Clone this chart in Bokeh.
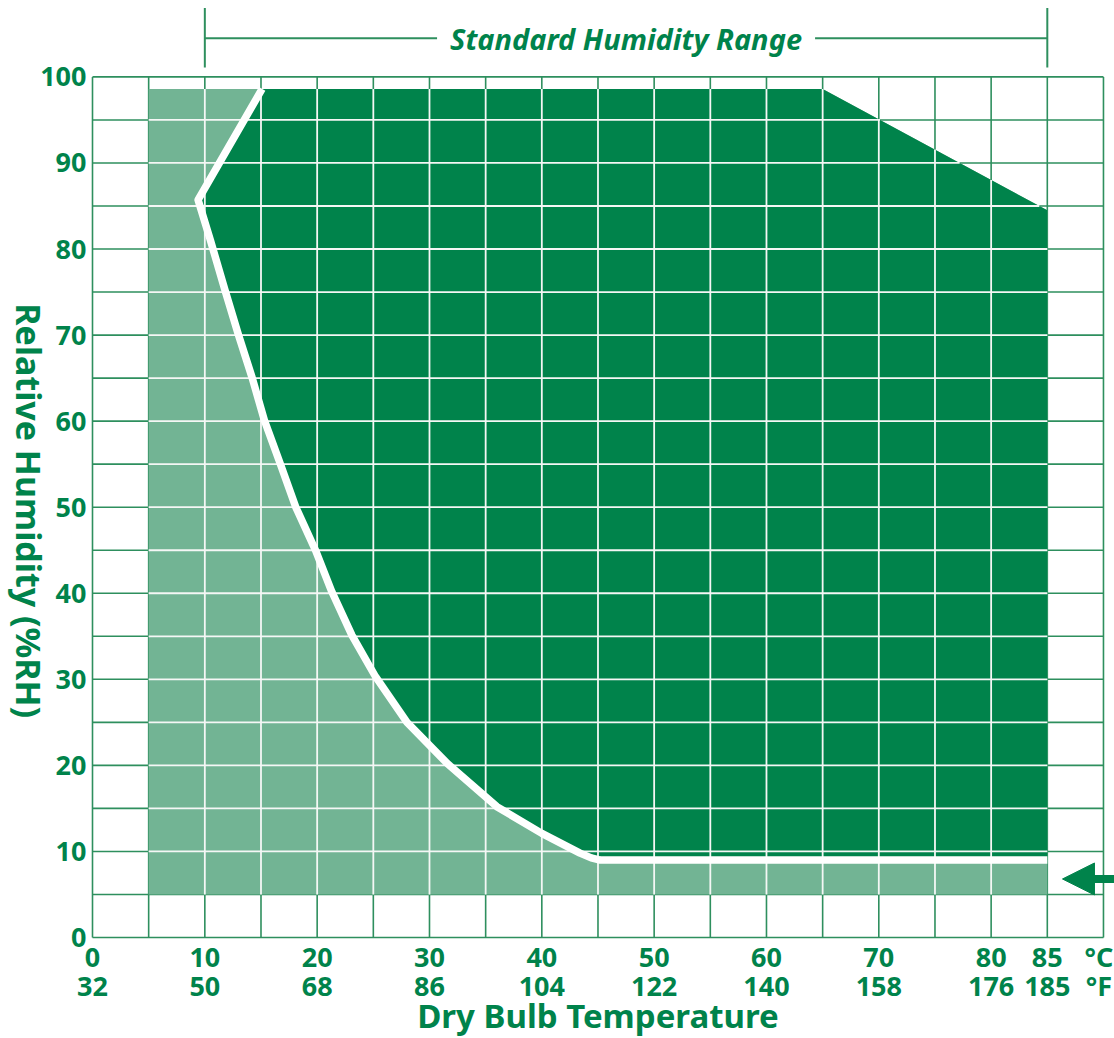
import math
import numpy as np
from bokeh.plotting import figure
from bokeh.models import Range1d, FixedTicker, Label, Arrow, NormalHead
from bokeh.core.properties import value
from bokeh.embed import file_html
from bokeh.resources import INLINE

# ---------------- data ----------------
temp_c_ticks = [0, 10, 20, 30, 40, 50, 60, 70, 80, 85]
temp_f_labels = ["32", "50", "68", "86", "104", "122", "140", "158", "176", "185"]
unit_tick = 89.6
unit_label = "°C\n°F"
rh_ticks = [0, 10, 20, 30, 40, 50, 60, 70, 80, 90, 100]
grid_t = list(range(0, 95, 5))      # °C grid every 5
grid_rh = list(range(0, 105, 5))    # %RH grid every 5

# overall chamber envelope (°C, %RH)
envelope_t = [5, 85, 85, 65, 5]
envelope_rh = [5, 5, 84.5, 98.6, 98.6]

# lower limit of the standard humidity range (top edge -> down to minimum RH)
limit_t = [15.1, 9.4, 10.5, 11.8, 13.0, 14.2, 15.3, 16.7, 18.1, 19.85, 21.3,
           23.1, 25.2, 28.0, 31.6, 36.0, 40.0, 43.4, 44.4, 45.2, 85.0]
limit_rh = [98.6, 85.7, 81.0, 75.2, 70.0, 65.1, 60.1, 55.1, 50.0, 45.0, 40.2,
            35.1, 30.3, 25.0, 20.2, 15.2, 12.1, 9.8, 9.25, 9.0, 9.0]
# upper right edge of the standard range
upper_t = [85, 65]
upper_rh = [84.5, 98.6]

# bracket for the "Standard Humidity Range"
bracket_t = [10, 85]
bracket_rh = 104.5
bracket_tick_rh = [101.1, 108.0]
arrow_rh = 6.8
arrow_t = [92.0, 86.35]

x_title = "Dry Bulb Temperature"
y_title = "Relative Humidity (%RH)"
x_title_pos = (45.0, -9.1)
y_title_pos = (-5.61, 49.6)

DARK = "#00834B"
LIGHT = "#72B494"
GRIDG = "#2E8F5E"
TEXT = "#00834B"
FONT = "Noto Sans"

# layout (pixels): the frame covers the whole canvas, axes sit at T=0 / RH=0
W, H = 1114, 1038
PX_T = 11.233   # px per °C
PX_RH = 8.606   # px per %RH
FRAME_L = 92
FRAME_B = 937

t_left = -FRAME_L / PX_T
t_right = (W - FRAME_L) / PX_T
rh_top = FRAME_B / PX_RH
rh_bottom = -(H - FRAME_B) / PX_RH

p = figure(width=W, height=H, x_range=Range1d(t_left, t_right), y_range=Range1d(rh_bottom, rh_top),
           output_backend="svg", toolbar_location=None,
           min_border_left=0, min_border_right=0, min_border_top=0, min_border_bottom=0)
p.outline_line_color = None
p.grid.visible = False
p.background_fill_color = "white"

# green grid lines (visible over the white background)
p.segment(x0=grid_t, y0=[0] * len(grid_t), x1=grid_t, y1=[100] * len(grid_t),
          line_color=GRIDG, line_width=1.6)
p.segment(x0=[0] * len(grid_rh), y0=grid_rh, x1=[90] * len(grid_rh), y1=grid_rh,
          line_color=GRIDG, line_width=1.6)

# filled envelope (light) and standard range (dark)
p.patch(envelope_t, envelope_rh, fill_color=LIGHT, line_color=None)
p.patch(limit_t + upper_t, limit_rh + upper_rh, fill_color=DARK, line_color=None)

# white grid lines over the coloured areas
t_lo, t_hi = envelope_t[0], envelope_t[1]
rh_lo = envelope_rh[0]
top_t = [envelope_t[4], envelope_t[3], envelope_t[2]]
top_rh = [envelope_rh[4], envelope_rh[3], envelope_rh[2]]
vx = [t for t in grid_t if t_lo < t < t_hi]
vtop = [float(np.interp(t, top_t, top_rh)) for t in vx]
p.segment(x0=vx, y0=[rh_lo] * len(vx), x1=vx, y1=vtop, line_color="#F4F7F5", line_width=1.8)
hy = [r for r in grid_rh if rh_lo < r < max(envelope_rh)]
hright = [float(np.interp(r, [envelope_rh[2], envelope_rh[3]], [envelope_t[2], envelope_t[3]])) for r in hy]
p.segment(x0=[t_lo] * len(hy), y0=hy, x1=hright, y1=hy, line_color="#F4F7F5", line_width=1.8)

# white separation line along the lower limit
p.line(limit_t, limit_rh, line_color="white", line_width=7.5, line_join="round")

# bracket above the plot
p.segment(x0=[bracket_t[0]], y0=[bracket_rh], x1=[bracket_t[1]], y1=[bracket_rh],
          line_color=GRIDG, line_width=2)
p.segment(x0=bracket_t, y0=[bracket_tick_rh[0]] * 2, x1=bracket_t, y1=[bracket_tick_rh[1]] * 2,
          line_color=GRIDG, line_width=2)
p.add_layout(Label(x=sum(bracket_t) / 2, y=bracket_rh, text="Standard Humidity Range",
                   text_font=FONT, text_font_style="bold italic", text_font_size="29px",
                   text_color=TEXT, text_align="center", text_baseline="middle",
                   background_fill_color="white", padding=13))

# arrow pointing at the minimum humidity
p.add_layout(Arrow(x_start=arrow_t[0], y_start=arrow_rh, x_end=arrow_t[1], y_end=arrow_rh,
                   line_color=DARK, line_width=8,
                   end=NormalHead(size=32, fill_color=DARK, line_color=DARK, line_width=1)))

# axes, fixed at T = 0 and RH = 0
xa = p.xaxis[0]
xa.fixed_location = 0
xa.ticker = FixedTicker(ticks=temp_c_ticks + [unit_tick])
ov = {t: f"{t}\n{f}" for t, f in zip(temp_c_ticks, temp_f_labels)}
ov[unit_tick] = unit_label
xa.major_label_overrides = ov
ya = p.yaxis[0]
ya.fixed_location = 0
ya.ticker = FixedTicker(ticks=rh_ticks)
for ax in (xa, ya):
    ax.axis_line_color = None
    ax.major_tick_line_color = None
    ax.minor_tick_line_color = None
    ax.major_tick_out = 0
    ax.major_tick_in = 0
    ax.major_label_text_font = FONT
    ax.major_label_text_font_style = "bold"
    ax.major_label_text_font_size = "27px"
    ax.major_label_text_color = TEXT
xa.major_label_standoff = 0
xa.major_label_text_line_height = 0.81
ya.major_label_standoff = 6

# axis titles
p.text(x=[y_title_pos[0]], y=[y_title_pos[1]], text=[y_title], angle=-math.pi / 2,
       text_font=value(FONT), text_font_style="bold", text_font_size="34px",
       text_color=TEXT, text_align="center", text_baseline="middle")
p.text(x=[x_title_pos[0]], y=[x_title_pos[1]], text=[x_title],
       text_font=value(FONT), text_font_style="bold", text_font_size="33px",
       text_color=TEXT, text_align="center", text_baseline="middle")

open("out.html", "w").write(file_html(p, INLINE))
